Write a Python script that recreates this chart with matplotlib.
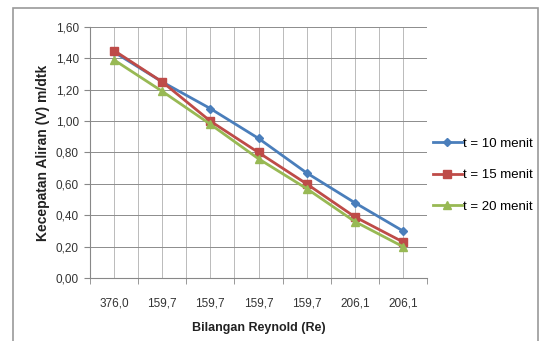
import numpy as np
import matplotlib.pyplot as plt
from matplotlib.patches import Rectangle
from matplotlib.ticker import FixedLocator

plt.rcParams['font.family'] = ['Liberation Sans', 'DejaVu Sans']

# data
reynold = ['376,0', '159,7', '159,7', '159,7', '159,7', '206,1', '206,1']
v_10 = [1.44, 1.25, 1.08, 0.89, 0.67, 0.48, 0.30]
v_15 = [1.45, 1.25, 1.00, 0.80, 0.60, 0.39, 0.23]
v_20 = [1.39, 1.19, 0.98, 0.76, 0.57, 0.36, 0.20]
names = ['t = 10 menit', 't = 15 menit', 't = 20 menit']

x = np.arange(len(reynold))
yt = np.arange(0, 1.61, 0.2)

fig = plt.figure(figsize=(5.42, 3.41), dpi=100)
fig.patches.append(Rectangle((13/542, -0.01), 525/542, 1 - 8/341 + 0.01,
                             transform=fig.transFigure, fill=False,
                             edgecolor='#9a9a9a', linewidth=1.2))

ax = fig.add_axes([90/542, 1 - 278/341, 337/542, 251/341])

ax.plot(x, v_10, color='#4A7EBB', marker='D', markersize=4.5, linewidth=2, label=names[0])
ax.plot(x, v_15, color='#BE4B48', marker='s', markersize=6, linewidth=2, label=names[1])
ax.plot(x, v_20, color='#98B954', marker='^', markersize=6, linewidth=2, label=names[2])

ax.set_xlim(-0.5, len(reynold) - 0.5)
ax.set_ylim(0, 1.6)
ax.set_yticks(yt)
ax.set_yticklabels([('%.2f' % v).replace('.', ',') for v in yt])

ax.set_xticks(x)
ax.set_xticklabels(reynold)
ax.xaxis.set_minor_locator(FixedLocator(np.arange(-0.5, len(reynold), 1.0)))
ax.tick_params(axis='x', which='major', length=0, pad=14, labelsize=8.5, colors='#333333')
ax.tick_params(axis='x', which='minor', length=4, color='#888888')
ax.tick_params(axis='y', length=4, color='#888888', labelsize=8.5, colors='#333333', pad=4)

ax.grid(True, axis='y', color='#8c8c8c', linewidth=0.7)
ax.grid(True, axis='x', which='both', color='#b0b0b0', linewidth=0.6)
ax.set_axisbelow(True)

for s in ['top', 'right']:
    ax.spines[s].set_visible(False)
for s in ['left', 'bottom']:
    ax.spines[s].set_color('#888888')

ax.set_ylabel('Kecepatan Aliran (V) m/dtk', fontsize=10, fontweight='bold', color='#222222', labelpad=4)
ax.set_xlabel('Bilangan Reynold (Re)', fontsize=9, fontweight='bold', color='#222222', labelpad=9)

ax.legend(loc='center left', bbox_to_anchor=(0.99, 0.41), frameon=False, fontsize=9.5,
          handlelength=2.2, handletextpad=0.1, labelspacing=1.45, borderaxespad=0.3)

fig.savefig('out.png', dpi=100)
